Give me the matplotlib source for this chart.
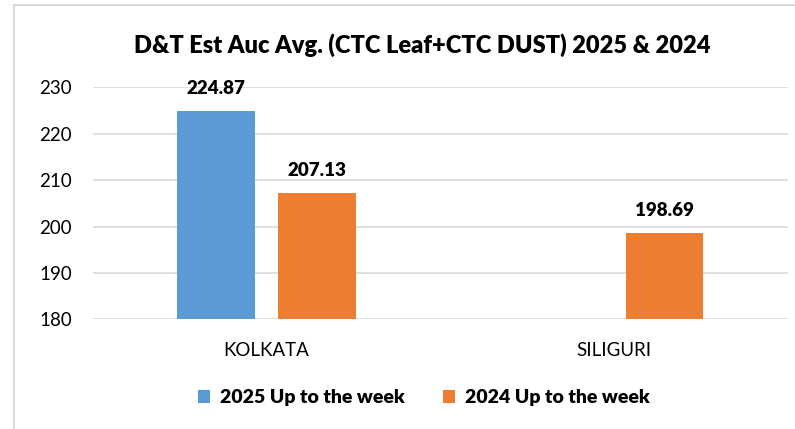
import numpy as np
import matplotlib as mpl
import matplotlib.pyplot as plt

mpl.rc('font', family=['Lato', 'DejaVu Sans'])

categories = ['KOLKATA', 'SILIGURI']
series_names = ['2025 Up to the week', '2024 Up to the week']
vals_2025 = [224.87, np.nan]
vals_2024 = [207.13, 198.69]
yticks = [180, 190, 200, 210, 220, 230]

col_2025 = '#5b9bd5'
col_2024 = '#ed7d31'

fig = plt.figure(figsize=(7.95, 4.29), dpi=100)
# outer chart frame
fig.patches.append(mpl.patches.Rectangle((14 / 795, -0.1), 1.1, 1.1 - 5 / 429,
                                         transform=fig.transFigure, fill=False,
                                         edgecolor='#d9d9d9', linewidth=1.5))

ax = fig.add_axes([92.75 / 795, 109.7 / 429, 695 / 795, 232 / 429])
x = np.arange(len(categories))
w = 0.223
off = 0.1448

b1 = ax.bar(x - off, vals_2025, w, color=col_2025, label=series_names[0], zorder=3)
b2 = ax.bar(x + off, vals_2024, w, color=col_2024, label=series_names[1], zorder=3)

for bars, vals in ((b1, vals_2025), (b2, vals_2024)):
    for rect, v in zip(bars, vals):
        if np.isnan(v):
            continue
        ax.text(rect.get_x() + rect.get_width() / 2, v + 3.0, '%.2f' % v,
                ha='center', va='bottom', fontsize=13.5, fontweight='heavy', color='black')

ax.set_xlim(-0.5, 1.5)
ax.set_ylim(180, 230)
ax.set_yticks(yticks)
ax.set_xticks(x)
ax.set_xticklabels(categories)
ax.tick_params(axis='both', length=0, labelsize=13.5, colors='black')
ax.tick_params(axis='x', pad=16)
ax.tick_params(axis='y', pad=15)
ax.grid(axis='y', color='#d9d9d9', linewidth=1.2, zorder=0)
for s in ax.spines.values():
    s.set_visible(False)

fig.text(422 / 795, 1 - 45 / 429, 'D&T Est Auc Avg. (CTC Leaf+CTC DUST) 2025 & 2024',
         ha='center', va='center', fontsize=17, fontweight='heavy')

leg = fig.legend(loc='center', bbox_to_anchor=(424 / 795, 1 - 398 / 429), ncol=2,
                 frameon=False, prop={'size': 14, 'weight': 'heavy'},
                 handlelength=0.6, handleheight=0.6, handletextpad=0.5, columnspacing=2.0)

fig.savefig('out.png', dpi=100)
